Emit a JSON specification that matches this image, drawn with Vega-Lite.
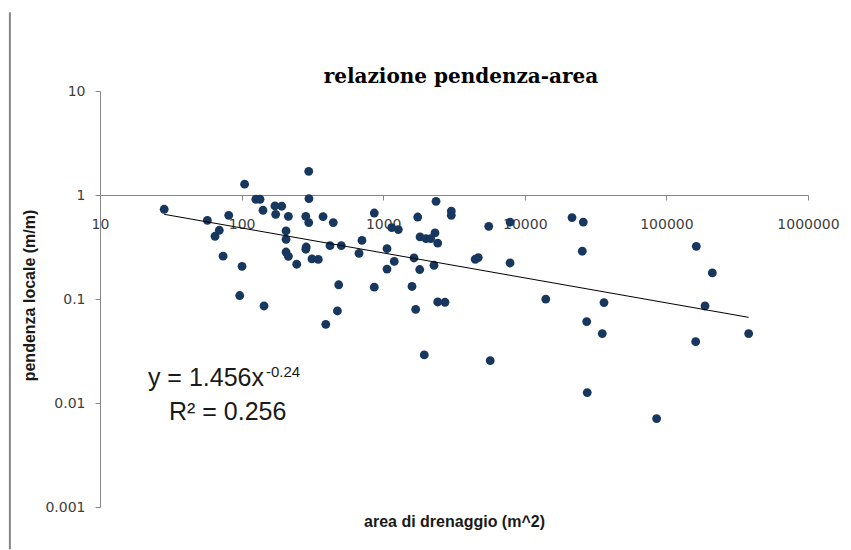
{
  "$schema": "https://vega.github.io/schema/vega-lite/v6.json",
  "width": 708,
  "height": 416,
  "autosize": "none",
  "padding": {"left": 100, "top": 91, "right": 43, "bottom": 43},
  "background": "white",
  "config": {
    "view": {"stroke": null},
    "axis": {
      "grid": false,
      "domainColor": "#868686",
      "tickColor": "#868686",
      "labelFont": "DejaVu Sans",
      "labelFontSize": 14,
      "labelColor": "#404040",
      "titleFont": "Liberation Sans",
      "titleFontSize": 16,
      "titleFontWeight": "bold",
      "titleColor": "#1a1a1a"
    }
  },
  "datasets": {
    "points": [
      {"area": 28.4, "slope": 0.729},
      {"area": 57.3, "slope": 0.571},
      {"area": 81.1, "slope": 0.638},
      {"area": 69.6, "slope": 0.458},
      {"area": 64.9, "slope": 0.401},
      {"area": 74.0, "slope": 0.258},
      {"area": 100.7, "slope": 0.206},
      {"area": 97.0, "slope": 0.108},
      {"area": 105, "slope": 1.27},
      {"area": 126, "slope": 0.91},
      {"area": 135, "slope": 0.91},
      {"area": 141.6, "slope": 0.713},
      {"area": 144, "slope": 0.0857},
      {"area": 172, "slope": 0.784},
      {"area": 192, "slope": 0.78},
      {"area": 174, "slope": 0.652},
      {"area": 214, "slope": 0.624},
      {"area": 206, "slope": 0.451},
      {"area": 206, "slope": 0.375},
      {"area": 206, "slope": 0.283},
      {"area": 214, "slope": 0.257},
      {"area": 245, "slope": 0.216},
      {"area": 284, "slope": 0.624},
      {"area": 298, "slope": 0.543},
      {"area": 286, "slope": 0.316},
      {"area": 284, "slope": 0.301},
      {"area": 298, "slope": 1.69},
      {"area": 299, "slope": 0.923},
      {"area": 314, "slope": 0.243},
      {"area": 348, "slope": 0.24},
      {"area": 376, "slope": 0.62},
      {"area": 444, "slope": 0.543},
      {"area": 421, "slope": 0.326},
      {"area": 506, "slope": 0.326},
      {"area": 485, "slope": 0.137},
      {"area": 475, "slope": 0.0767},
      {"area": 393, "slope": 0.0571},
      {"area": 708, "slope": 0.366},
      {"area": 675, "slope": 0.275},
      {"area": 865, "slope": 0.671},
      {"area": 865, "slope": 0.13},
      {"area": 1064, "slope": 0.305},
      {"area": 1064, "slope": 0.194},
      {"area": 1148, "slope": 0.486},
      {"area": 1279, "slope": 0.465},
      {"area": 1197, "slope": 0.23},
      {"area": 1597, "slope": 0.132},
      {"area": 1650, "slope": 0.248},
      {"area": 1696, "slope": 0.0796},
      {"area": 1753, "slope": 0.614},
      {"area": 1811, "slope": 0.192},
      {"area": 1820, "slope": 0.395},
      {"area": 2005, "slope": 0.381},
      {"area": 2164, "slope": 0.381},
      {"area": 2321, "slope": 0.432},
      {"area": 2426, "slope": 0.345},
      {"area": 2284, "slope": 0.211},
      {"area": 2361, "slope": 0.869},
      {"area": 2426, "slope": 0.0936},
      {"area": 2731, "slope": 0.093},
      {"area": 3027, "slope": 0.701},
      {"area": 3027, "slope": 0.638},
      {"area": 4467, "slope": 0.241},
      {"area": 4692, "slope": 0.25},
      {"area": 5563, "slope": 0.5},
      {"area": 7870, "slope": 0.549},
      {"area": 7870, "slope": 0.222},
      {"area": 14060, "slope": 0.0999},
      {"area": 21550, "slope": 0.607},
      {"area": 25880, "slope": 0.549},
      {"area": 25470, "slope": 0.288},
      {"area": 27360, "slope": 0.0607},
      {"area": 36250, "slope": 0.0923},
      {"area": 35250, "slope": 0.0465},
      {"area": 162600, "slope": 0.321},
      {"area": 211000, "slope": 0.178},
      {"area": 187400, "slope": 0.0857},
      {"area": 161000, "slope": 0.0389},
      {"area": 381000, "slope": 0.0465},
      {"area": 5700, "slope": 0.0256},
      {"area": 27600, "slope": 0.0126},
      {"area": 85300, "slope": 0.00708},
      {"area": 1950, "slope": 0.029}
    ],
    "trend": [
      {"area": 28.4, "slope": 0.652},
      {"area": 381000, "slope": 0.0666}
    ],
    "one": [{}]
  },
  "layer": [
    {
      "data": {"name": "points"},
      "mark": {"type": "circle", "size": 78, "color": "#17375E", "opacity": 1},
      "encoding": {
        "x": {
          "field": "area",
          "type": "quantitative",
          "scale": {"type": "log", "domain": [10, 1000000], "nice": false},
          "axis": {
            "title": "area di drenaggio (m^2)",
            "values": [10, 100, 1000, 10000, 100000, 1000000],
            "format": "d",
            "offset": -312,
            "tickSize": 5,
            "labelPadding": 17,
            "labelFlush": false,
            "labelOverlap": false,
            "titleY": 326,
            "titleBaseline": "middle"
          }
        },
        "y": {
          "field": "slope",
          "type": "quantitative",
          "scale": {"type": "log", "domain": [0.001, 10], "nice": false},
          "axis": {
            "title": "pendenza locale (m/m)",
            "values": [0.001, 0.01, 0.1, 1, 10],
            "format": "~g",
            "tickSize": 5,
            "labelPadding": 10,
            "labelFlush": false,
            "labelOverlap": false,
            "titleX": -71,
            "titleY": 204,
            "titleAngle": -90,
            "titleAlign": "center",
            "titleBaseline": "middle"
          }
        }
      }
    },
    {
      "data": {"name": "trend"},
      "mark": {"type": "line", "color": "#000000", "strokeWidth": 1},
      "encoding": {
        "x": {"field": "area", "type": "quantitative"},
        "y": {"field": "slope", "type": "quantitative"}
      }
    },
    {
      "data": {"name": "one"},
      "mark": {"type": "rule", "color": "#868686", "strokeWidth": 2},
      "encoding": {
        "x": {"datum": 2.31, "type": "quantitative"},
        "y": {"datum": 57.2, "type": "quantitative"},
        "y2": {"datum": 0.000393}
      }
    },
    {
      "data": {"name": "one"},
      "mark": {"type": "text", "text": "relazione pendenza-area", "font": "DejaVu Serif", "fontSize": 20, "fontWeight": "bold", "color": "#000000", "align": "center", "baseline": "alphabetic"},
      "encoding": {
        "x": {"datum": 3540, "type": "quantitative"},
        "y": {"datum": 11.94, "type": "quantitative"}
      }
    },
    {
      "data": {"name": "one"},
      "mark": {"type": "text", "text": "y = 1.456x", "font": "Liberation Sans", "fontSize": 25, "color": "#1a1a1a", "align": "left", "baseline": "alphabetic"},
      "encoding": {
        "x": {"datum": 21.8, "type": "quantitative"},
        "y": {"datum": 0.01456, "type": "quantitative"}
      }
    },
    {
      "data": {"name": "one"},
      "mark": {"type": "text", "text": "-0.24", "font": "Liberation Sans", "fontSize": 15, "color": "#1a1a1a", "align": "left", "baseline": "alphabetic"},
      "encoding": {
        "x": {"datum": 148.6, "type": "quantitative"},
        "y": {"datum": 0.01778, "type": "quantitative"}
      }
    },
    {
      "data": {"name": "one"},
      "mark": {"type": "text", "text": "R² = 0.256", "font": "Liberation Sans", "fontSize": 25, "color": "#1a1a1a", "align": "left", "baseline": "alphabetic"},
      "encoding": {
        "x": {"datum": 30.7, "type": "quantitative"},
        "y": {"datum": 0.00687, "type": "quantitative"}
      }
    }
  ]
}
